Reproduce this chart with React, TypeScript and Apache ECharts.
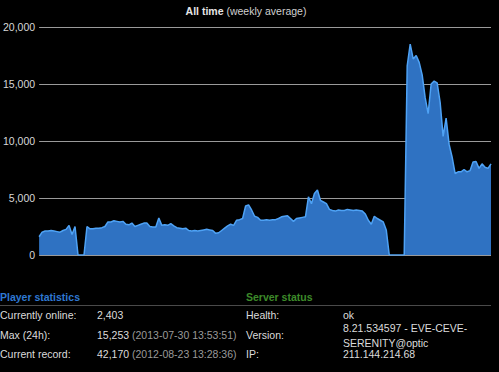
import React, { useEffect, useRef } from "react";
import * as echarts from "echarts";

const titleBold = "All time";
const titleNormal = " (weekly average)";
const yTicks = [0, 5000, 10000, 15000, 20000];

// weekly average players online
const playersOnline = [
  1600, 2000, 2100, 2100, 2150, 2100, 2050, 2000, 2150, 2250,
  2600, 1800, 2500, 0, 0, 0, 2500, 2300, 2300, 2350,
  2350, 2400, 2500, 2900, 2900, 3000, 2950, 2900, 2950, 2700,
  2650, 2800, 2500, 2600, 2700, 2800, 2800, 2500, 2450, 2450,
  3250, 2600, 2650, 2600, 2750, 2550, 2400, 2350, 2300, 2350,
  2150, 2100, 2150, 2100, 2150, 2200, 2250, 2200, 2150, 1900,
  1950, 2150, 2350, 2550, 2700, 2600, 3050, 3100, 3200, 4300,
  4400, 3950, 3400, 3300, 3050, 3050, 3100, 3050, 3100, 3100,
  3200, 3350, 3400, 3450, 3200, 2950, 3200, 3250, 3300, 3350,
  5100, 4500, 5400, 5700, 4800, 4650, 4500, 4000, 3900, 3850,
  3950, 3900, 3900, 4000, 3950, 3900, 3950, 3900, 3850, 3600,
  3050, 2700, 3400, 3200, 3050, 2900, 2200, 0, 0, 0,
  0, 0, 0, 16600, 18500, 17200, 17500, 16900, 15800, 13800,
  12400, 15000, 15250, 15100, 13400, 10400, 12000, 9700, 8600, 7150,
  7300, 7300, 7500, 7300, 7400, 8150, 8200, 7600, 8000, 7700,
  7600, 8000,
];
const weeks = playersOnline.map((_, i) => String(i + 1));

const playerRows = [
  { label: "Currently online:", value: "2,403", extra: "" },
  { label: "Max (24h):", value: "15,253", extra: " (2013-07-30 13:53:51)" },
  { label: "Current record:", value: "42,170", extra: " (2012-08-23 13:28:36)" },
];
const serverRows = [
  { label: "Health:", value: "ok" },
  { label: "Version:", value: "8.21.534597 - EVE-CEVE-\nSERENITY@optic" },
  { label: "IP:", value: "211.144.214.68" },
];

const FONT = "'Liberation Sans', Arial, sans-serif";

export default function App() {
  const ref = useRef<HTMLDivElement>(null);
  useEffect(() => {
    if (!ref.current) return;
    const chart = echarts.init(ref.current, null, { renderer: "svg" });
    const rowY = [315, 335, 354];
    const graphics: any[] = [
      {
        type: "text",
        x: 246,
        y: 11,
        style: {
          text: "{b|" + titleBold + "}{n|" + titleNormal + "}",
          align: "center",
          verticalAlign: "middle",
          rich: {
            b: { fontFamily: FONT, fontSize: 10.5, fontWeight: "bold", fill: "#e6e6e6" },
            n: { fontFamily: FONT, fontSize: 10.5, fill: "#d0d0d0" },
          },
        },
      },
      {
        type: "text",
        x: 0,
        y: 297,
        style: { text: "Player statistics", fontFamily: FONT, fontSize: 10.5, fontWeight: "bold", fill: "#2f78d2", verticalAlign: "middle" },
      },
      {
        type: "text",
        x: 246,
        y: 297,
        style: { text: "Server status", fontFamily: FONT, fontSize: 10.5, fontWeight: "bold", fill: "#3d8a2a", verticalAlign: "middle" },
      },
      {
        type: "line",
        shape: { x1: 0, y1: 305.5, x2: 491, y2: 305.5 },
        style: { stroke: "#4a4a4a", lineWidth: 1 },
      },
    ];
    playerRows.forEach((r, i) => {
      graphics.push({
        type: "text",
        x: 0,
        y: rowY[i],
        style: { text: r.label, fontFamily: FONT, fontSize: 10.5, fill: "#dcdcdc", verticalAlign: "middle" },
      });
      graphics.push({
        type: "text",
        x: 97,
        y: rowY[i],
        style: {
          text: "{v|" + r.value + "}" + (r.extra ? "{e|" + r.extra + "}" : ""),
          verticalAlign: "middle",
          rich: {
            v: { fontFamily: FONT, fontSize: 10.5, fill: "#dcdcdc" },
            e: { fontFamily: FONT, fontSize: 10.5, fill: "#9a9a9a" },
          },
        },
      });
    });
    serverRows.forEach((r, i) => {
      graphics.push({
        type: "text",
        x: 246,
        y: rowY[i],
        style: { text: r.label, fontFamily: FONT, fontSize: 10.5, fill: "#dcdcdc", verticalAlign: "middle" },
      });
      graphics.push({
        type: "text",
        x: 343,
        y: rowY[i],
        style: { text: r.value, fontFamily: FONT, fontSize: 10.5, lineHeight: 15, fill: "#dcdcdc", verticalAlign: "middle" },
      });
    });

    chart.setOption({
      animation: false,
      backgroundColor: "#000000",
      grid: { left: 37, right: 8, top: 27, bottom: 117, containLabel: false },
      xAxis: {
        type: "category",
        data: weeks,
        boundaryGap: false,
        axisLine: { show: false },
        axisTick: { show: false },
        axisLabel: { show: false },
        splitLine: { show: false },
      },
      yAxis: {
        type: "value",
        min: yTicks[0],
        max: yTicks[yTicks.length - 1],
        interval: 5000,
        axisLine: { show: false },
        axisTick: { show: false },
        axisLabel: {
          color: "#d8d8d8",
          fontFamily: FONT,
          fontSize: 10.5,
          margin: 4,
          formatter: (v: number) => v.toLocaleString("en-US"),
        },
        splitLine: { lineStyle: { color: "#9a9a9a", width: 1 } },
      },
      series: [
        {
          type: "line",
          data: playersOnline,
          showSymbol: false,
          symbol: "none",
          lineStyle: { color: "#4ea2f5", width: 1.5 },
          areaStyle: { color: "#2f72c2", opacity: 1 },
          z: 3,
        },
      ],
      graphic: graphics,
    });
    return () => chart.dispose();
  }, []);
  return <div ref={ref} style={{ width: 499, height: 372, position: "absolute", left: 0, top: 0 }} />;
}
